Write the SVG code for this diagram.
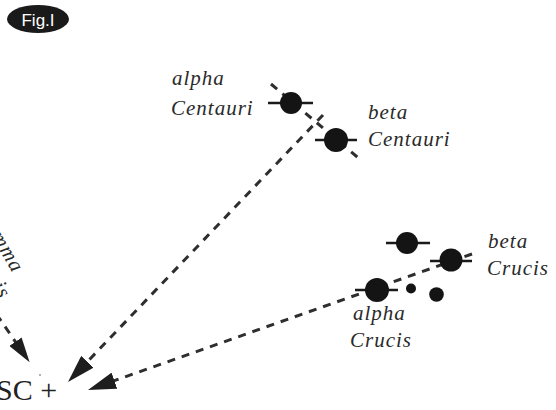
<svg xmlns="http://www.w3.org/2000/svg" width="556" height="410" viewBox="0 0 556 410">
<style>
.lbl{font-family:"Liberation Serif","Times New Roman",serif;font-style:italic;font-size:21px;letter-spacing:1px;fill:#2a2a2a}
.dash{fill:none;stroke:#2e2e2e;stroke-width:3;stroke-dasharray:8 7}
.bar{stroke:#1a1a1a;stroke-width:2.5}
.star{fill:#141414}
</style>
<defs>
<marker id="ah" markerUnits="userSpaceOnUse" viewBox="0 0 28 17" markerWidth="28" markerHeight="17" refX="16" refY="8.5" orient="auto"><path d="M0,0 L28,8.5 L0,17 z" fill="#1e1e1e"/></marker>
<marker id="ahs" markerUnits="userSpaceOnUse" viewBox="0 0 25 15" markerWidth="25" markerHeight="15" refX="13" refY="7.5" orient="auto"><path d="M0,0 L25,7.5 L0,15 z" fill="#1e1e1e"/></marker>
</defs>
<rect width="556" height="410" fill="#fff"/>

<g id="badge">
<ellipse cx="38" cy="19" rx="31" ry="14" fill="#1a1a1a"/>
<text x="38" y="25.5" text-anchor="middle" font-family="Liberation Sans, Arial, sans-serif" font-size="17" fill="#fff">Fig.I</text>
</g>

<g id="connectors">
<path class="dash" d="M323,115 L76.3,373.3" marker-end="url(#ah)"/>
<path class="dash" d="M472,254 L99.3,386" marker-end="url(#ah)"/>
<path class="dash" d="M-12,302 L22.8,352.4" marker-end="url(#ahs)"/>
<path class="dash" d="M271,84 L362,161" stroke-width="2.5" stroke-dasharray="9 7"/>
</g>

<g id="alpha-centauri">
<line class="bar" x1="268" y1="103" x2="313" y2="103"/>
<circle class="star" cx="291" cy="103" r="11"/>
<text class="lbl" x="172" y="85">alpha</text>
<text class="lbl" x="171" y="115">Centauri</text>
</g>

<g id="beta-centauri">
<line class="bar" x1="315" y1="140" x2="357" y2="140"/>
<circle class="star" cx="336" cy="140" r="12"/>
<text class="lbl" x="368" y="119">beta</text>
<text class="lbl" x="368" y="146">Centauri</text>
</g>

<g id="delta-crucis">
<line class="bar" x1="386" y1="243" x2="430" y2="243"/>
<circle class="star" cx="407" cy="243" r="11"/>
</g>

<g id="beta-crucis">
<line class="bar" x1="430" y1="261" x2="472" y2="261"/>
<circle class="star" cx="451" cy="260" r="11.5"/>
<text class="lbl" x="488" y="248">beta</text>
<text class="lbl" x="487" y="275">Crucis</text>
</g>

<g id="alpha-crucis">
<line class="bar" x1="355" y1="290" x2="398" y2="290"/>
<circle class="star" cx="377" cy="290" r="12"/>
<text class="lbl" x="353" y="320">alpha</text>
<text class="lbl" x="350" y="347">Crucis</text>
</g>

<g id="small-stars">
<circle class="star" cx="411" cy="288.5" r="5"/>
<circle class="star" cx="436.5" cy="294.5" r="7.3"/>
</g>

<g id="gamma-crucis">
<text class="lbl" text-anchor="end" transform="translate(13,274) rotate(60)">gamma</text>
<text class="lbl" text-anchor="end" transform="translate(0,300) rotate(60)">Crucis</text>
</g>

<g id="sc">
<circle cx="40" cy="375" r="1" fill="#999"/>
<text x="-4" y="400" font-family="Liberation Serif, Times New Roman, serif" font-size="30" fill="#222">SC +</text>
</g>
</svg>
